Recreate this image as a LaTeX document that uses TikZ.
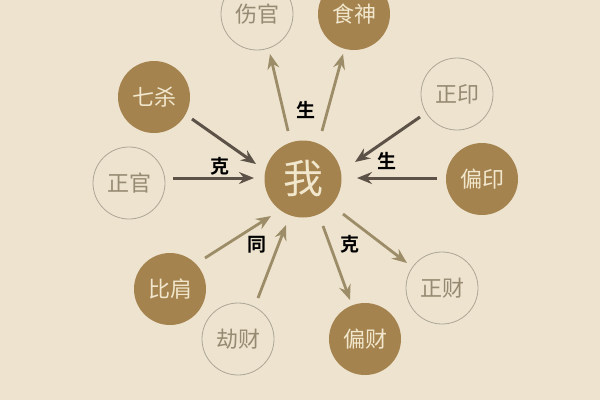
\documentclass[tikz,border=0pt]{standalone}
\usepackage{fontspec}
\newfontfamily\cjk{Noto Sans CJK SC}
\newfontfamily\cjkb{Noto Sans CJK SC Bold}
\usetikzlibrary{arrows.meta}
\definecolor{paper}{HTML}{EDE3CE}
\definecolor{disc}{HTML}{A5834F}
\definecolor{disctext}{HTML}{F1E7CC}
\definecolor{ring}{HTML}{ADA596}
\definecolor{ringtext}{HTML}{968A72}
\definecolor{darkarrow}{HTML}{5C5247}
\definecolor{lightarrow}{HTML}{9C8C68}
\tikzset{
  filled/.style={circle, fill=disc, minimum size=72pt, inner sep=0pt, text=disctext, font=\cjk\fontsize{22}{22}\selectfont},
  hollow/.style={circle, draw=ring, line width=0.8pt, minimum size=72pt, inner sep=0pt, text=ringtext, font=\cjk\fontsize{22}{22}\selectfont},
  darr/.style={draw=darkarrow, line width=3pt, -{Stealth[length=15pt,width=12pt,inset=5pt]}},
  larr/.style={draw=lightarrow, line width=2.8pt, -{Stealth[length=15pt,width=12pt,inset=5pt]}},
  lbl/.style={font=\cjkb\fontsize{19}{19}\selectfont, text=black}
}
\begin{document}
\begin{tikzpicture}[x=1pt,y=-1pt]
\fill[paper] (0,0) rectangle (600,400);
\useasboundingbox (0,0) rectangle (600,400);
% nodes
\node[filled, minimum size=77pt, font=\cjk\fontsize{40}{40}\selectfont] (wo) at (303,179) {我};
\node[hollow] (shangguan) at (257,14) {伤官};
\node[filled] (shishen) at (354,14) {食神};
\node[filled] (qisha) at (154,97) {七杀};
\node[hollow] (zhengguan) at (129,183) {正官};
\node[hollow] (zhengyin) at (457,94) {正印};
\node[filled] (pianyin) at (482,179) {偏印};
\node[filled] (bijian) at (170,289) {比肩};
\node[hollow] (jiecai) at (238,339) {劫财};
\node[hollow] (zhengcai) at (442,288) {正财};
\node[filled] (piancai) at (365,339) {偏财};
% arrow end points
\coordinate (sgT) at (288,131); \coordinate (sgH) at (270,54);
\coordinate (ssT) at (322,131); \coordinate (ssH) at (343,54);
\coordinate (qsT) at (192,119); \coordinate (qsH) at (256,164);
\coordinate (zgT) at (173,178); \coordinate (zgH) at (254,178);
\coordinate (zyT) at (420,117); \coordinate (zyH) at (355,162);
\coordinate (pyT) at (437,178); \coordinate (pyH) at (357,178);
\coordinate (bjT) at (205,258); \coordinate (bjH) at (271,216);
\coordinate (jcT) at (258,298); \coordinate (jcH) at (286,225);
\coordinate (pcT) at (323,226); \coordinate (pcH) at (350,300);
\coordinate (zcT) at (343,214); \coordinate (zcH) at (407,263);
% arrows
\draw[larr] (sgT) -- (sgH);
\draw[larr] (ssT) -- (ssH);
\draw[darr] (qsT) -- (qsH);
\draw[darr] (zgT) -- (zgH);
\draw[darr] (zyT) -- (zyH);
\draw[darr] (pyT) -- (pyH);
\draw[larr] (bjT) -- (bjH);
\draw[larr] (jcT) -- (jcH);
\draw[larr] (pcT) -- (pcH);
\draw[larr] (zcT) -- (zcH);
% labels
\node[lbl] (sheng1) at (306,110) {生};
\node[lbl] (ke1) at (220,166) {克};
\node[lbl] (sheng2) at (387,161) {生};
\node[lbl] (tong) at (257,245) {同};
\node[lbl] (ke2) at (350,244) {克};
\end{tikzpicture}
\end{document}
